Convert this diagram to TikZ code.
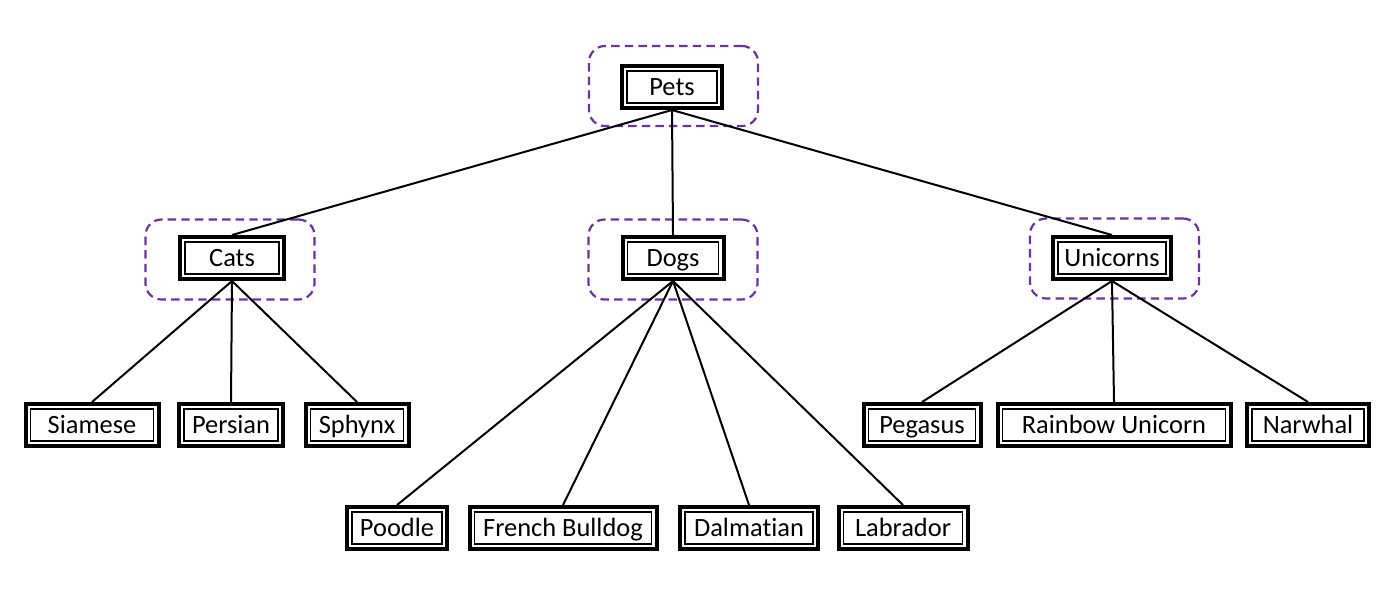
\documentclass[tikz,border=0pt]{standalone}
\usepackage{fontspec}
\setmainfont[Ligatures={NoCommon}]{Carlito}
\definecolor{grpurple}{RGB}{112,48,160}
\tikzset{
  petbox/.style={draw, line width=2pt, minimum height=21pt, inner sep=0pt,
    text height=11pt, text depth=2.5pt,
    font=\fontsize{13.2pt}{15pt}\selectfont, fill=white,
    path picture={\draw[line width=0.6pt, sharp corners]
      ([shift={(2.5pt,-2.5pt)}]path picture bounding box.north west) rectangle
      ([shift={(-2.5pt,2.5pt)}]path picture bounding box.south east);}},
  groupbox/.style={draw=grpurple, line width=1.1pt, dash pattern=on 4.2pt off 2.6pt,
    rounded corners=8pt, minimum height=40pt, minimum width=84.5pt, inner sep=0pt},
  link/.style={line width=1pt}
}
\begin{document}
\begin{tikzpicture}[x=0.5pt,y=-0.5pt]
\path[use as bounding box] (0,0) rectangle (1400,591);
% groups
\node[groupbox] (petsg) at (673.5,86) {};
\node[groupbox] (catsg) at (230,259.5) {};
\node[groupbox] (dogsg) at (673,259.5) {};
\node[groupbox] (unig) at (1114.5,258.5) {};
% nodes
\node[petbox, minimum width=50pt] (pets) at (672,87) {Pets};
\node[petbox, minimum width=52pt] (cats) at (232,258) {Cats};
\node[petbox, minimum width=50.5pt] (dogs) at (673,258) {Dogs};
\node[petbox, minimum width=59pt] (unicorns) at (1112,258) {Unicorns};
\node[petbox, minimum width=66.5pt] (siamese) at (92,425) {Siamese};
\node[petbox, minimum width=52pt] (persian) at (231,425) {Persian};
\node[petbox, minimum width=51.5pt] (sphynx) at (357,425) {Sphynx};
\node[petbox, minimum width=58.5pt] (pegasus) at (922,425) {Pegasus};
\node[petbox, minimum width=116.5pt] (rainbow) at (1114,425) {Rainbow Unicorn};
\node[petbox, minimum width=61pt] (narwhal) at (1308,425) {Narwhal};
\node[petbox, minimum width=50pt] (poodle) at (397,528) {Poodle};
\node[petbox, minimum width=93.5pt] (french) at (563,528) {French Bulldog};
\node[petbox, minimum width=69pt] (dalmatian) at (749,528) {Dalmatian};
\node[petbox, minimum width=64.5pt] (labrador) at (903,528) {Labrador};
% links
\draw[link] (pets.south) -- (cats.north);
\draw[link] (pets.south) -- (dogs.north);
\draw[link] (pets.south) -- (unicorns.north);
\draw[link] (cats.south) -- (siamese.north);
\draw[link] (cats.south) -- (persian.north);
\draw[link] (cats.south) -- (sphynx.north);
\draw[link] (dogs.south) -- (poodle.north);
\draw[link] (dogs.south) -- (french.north);
\draw[link] (dogs.south) -- (dalmatian.north);
\draw[link] (dogs.south) -- (labrador.north);
\draw[link] (unicorns.south) -- (pegasus.north);
\draw[link] (unicorns.south) -- (rainbow.north);
\draw[link] (unicorns.south) -- (narwhal.north);
\end{tikzpicture}
\end{document}
